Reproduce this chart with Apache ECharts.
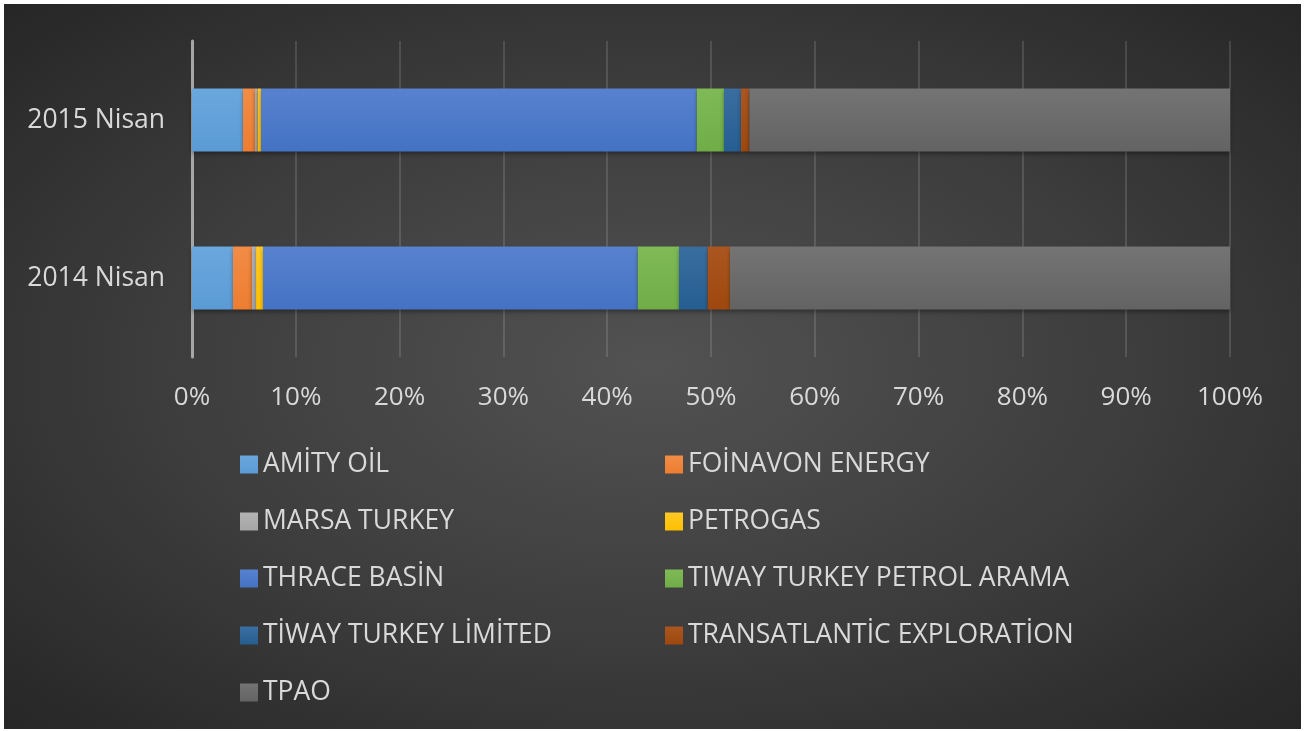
<!DOCTYPE html>
<html>
<head>
<meta charset="utf-8">
<script src="https://cdn.jsdelivr.net/npm/echarts@6/dist/echarts.min.js"></script>
<style>
  html, body { margin: 0; padding: 0; background: #fff; }
  #chart {
    position: absolute; left: 4px; top: 4px; width: 1297px; height: 725px;
    background: radial-gradient(ellipse at 50% 50%, #525252 0%, #3c3c3c 55%, #262626 100%);
  }
</style>
</head>
<body>
<div id="chart"></div>
<script>
// kategoriler (alttan üste)
const periods = ['2014 Nisan', '2015 Nisan'];

const companies = [
    'AMİTY OİL', 'FOİNAVON ENERGY', 'MARSA TURKEY', 'PETROGAS', 'THRACE BASİN',
    'TIWAY TURKEY PETROL ARAMA', 'TİWAY TURKEY LİMİTED', 'TRANSATLANTİC EXPLORATİON', 'TPAO'
];

// pay (%) — [2014 Nisan, 2015 Nisan]
const amityOil = [3.95, 4.91];
const foinavon = [1.83, 1.16];
const marsa = [0.39, 0.26];
const petrogas = [0.67, 0.32];
const thrace = [36.1, 41.97];
const tiwayArama = [3.98, 2.63];
const tiwayLimited = [2.76, 1.64];
const transatlantic = [2.15, 0.80];
const tpao = [48.17, 46.31];

const values = [amityOil, foinavon, marsa, petrogas, thrace, tiwayArama, tiwayLimited, transatlantic, tpao];
const colors = ['#5B9BD5', '#ED7D31', '#A5A5A5', '#FFC000', '#4472C4', '#70AD47', '#255E91', '#9E480E', '#636363'];
const lighter = ['#6aa7dd', '#f28c45', '#b3b3b3', '#ffc926', '#5882cf', '#7fba57', '#3a6ea0', '#ab5620', '#747474'];

const tickLabels = ['0%', '10%', '20%', '30%', '40%', '50%', '60%', '70%', '80%', '90%', '100%'];

const chart = echarts.init(document.getElementById('chart'));

const series = companies.map((name, i) => ({
    name: name,
    type: 'bar',
    stack: 'total',
    barWidth: 63,
    data: values[i],
    itemStyle: {
        color: new echarts.graphic.LinearGradient(0, 0, 0, 1, [
            { offset: 0, color: lighter[i] },
            { offset: 1, color: colors[i] }
        ]),
        shadowColor: 'rgba(0,0,0,0.35)',
        shadowBlur: 4,
        shadowOffsetY: 2
    },
    emphasis: { disabled: true }
}));

const legendText = { color: '#d9d9d9', fontSize: 26.5, lineHeight: 27, fontFamily: 'Open Sans' };

const option = {
    animation: false,
    grid: { left: 188, right: 71, top: 37, bottom: 372 },
    xAxis: {
        type: 'value',
        min: 0,
        max: 100,
        interval: 10,
        axisLine: { show: false },
        axisTick: { show: false },
        splitLine: { lineStyle: { color: 'rgba(255,255,255,0.13)', width: 2 } },
        axisLabel: {
            color: '#d9d9d9', fontSize: 26, fontFamily: 'Open Sans', margin: 28,
            formatter: v => tickLabels[v / 10]
        }
    },
    yAxis: {
        type: 'category',
        data: periods,
        axisLine: { show: true, lineStyle: { color: '#a6a6a6', width: 3 } },
        axisTick: { show: false },
        axisLabel: { color: '#d9d9d9', fontSize: 26.5, fontFamily: 'Open Sans', margin: 27 }
    },
    legend: [
        {
            orient: 'vertical',
            left: 231,
            top: 442,
            itemWidth: 18,
            itemHeight: 18,
            itemGap: 30,
            icon: 'rect',
            textStyle: legendText,
            data: [companies[0], companies[2], companies[4], companies[6], companies[8]]
        },
        {
            orient: 'vertical',
            left: 656,
            top: 442,
            itemWidth: 18,
            itemHeight: 18,
            itemGap: 30,
            icon: 'rect',
            textStyle: legendText,
            data: [companies[1], companies[3], companies[5], companies[7]]
        }
    ],
    series: series
};

chart.setOption(option);
</script>
</body>
</html>
